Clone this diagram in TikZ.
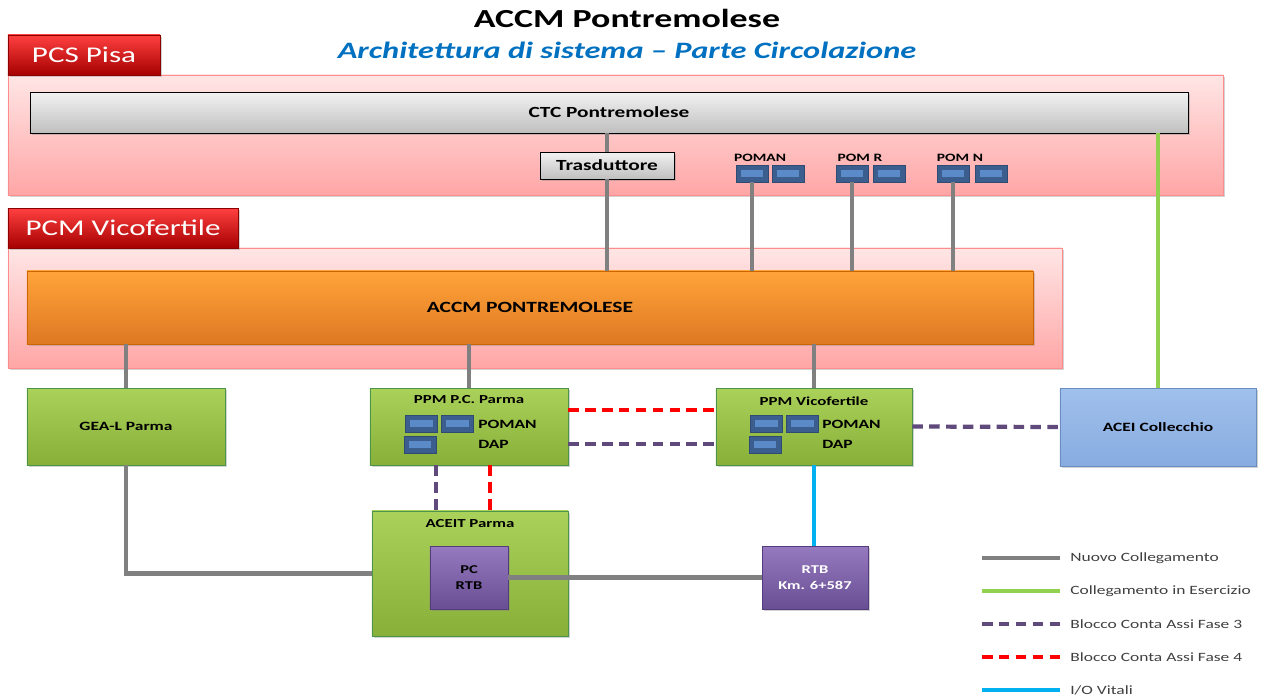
\documentclass[tikz,border=0pt]{standalone}
\usepackage{fontspec}
\setmainfont{Carlito}[FakeStretch=1.38]
\usepackage{xcolor}
\usepackage{tikz}
\usetikzlibrary{shadows}

\definecolor{linkgrey}{HTML}{808080}
\definecolor{linkgreen}{HTML}{92D050}
\definecolor{linkpurple}{HTML}{604A7B}
\definecolor{linkred}{HTML}{FF0000}
\definecolor{linkcyan}{HTML}{00B0F0}
\definecolor{titleblue}{HTML}{0070C0}
\definecolor{blockdark}{HTML}{3B5E8E}
\definecolor{blocklight}{HTML}{5A8AC8}
\definecolor{legendtext}{HTML}{404040}

\tikzset{
  box/.style={shape=rectangle, inner sep=0pt, drop shadow={opacity=0.35, shadow xshift=1.5pt, shadow yshift=-1.5pt}},
  area/.style={box, draw=red!45!white, top color=red!10!white, bottom color=red!35!white},
  tab/.style={box, draw=red!55!black, top color=red!75!white, bottom color=red!65!black,
    text=white, font=\fontsize{16}{18}\selectfont},
  greybox/.style={box, draw=black, top color=gray!10, bottom color=gray!50,
    font=\bfseries\fontsize{11}{13}\selectfont},
  orangebox/.style={box, draw=orange!80!black, top color={rgb,255:red,255;green,164;blue,58},
    bottom color={rgb,255:red,222;green,120;blue,34}, font=\bfseries\fontsize{11.1}{13}\selectfont},
  greenbox/.style={box, draw=green!40!black!70, top color={rgb,255:red,170;green,210;blue,90},
    bottom color={rgb,255:red,136;green,176;blue,56}, font=\bfseries\fontsize{9}{11}\selectfont},
  bluebox/.style={box, draw={rgb,255:red,106;green,140;blue,192}, top color={rgb,255:red,160;green,192;blue,236},
    bottom color={rgb,255:red,136;green,172;blue,224}, font=\bfseries\fontsize{9}{11}\selectfont},
  purplebox/.style={box, draw={rgb,255:red,84;green,60;blue,124}, top color={rgb,255:red,150;green,122;blue,192},
    bottom color={rgb,255:red,104;green,78;blue,146}, align=center, font=\bfseries\fontsize{8.5}{11}\selectfont},
  pomblock/.style={shape=rectangle, inner sep=0pt, draw=blockdark!80!black, fill=blockdark,
    minimum width=0.8cm, minimum height=0.42cm,
    path picture={\fill[blocklight] ([shift={(3.5pt,-3.3pt)}]path picture bounding box.north west)
      rectangle ([shift={(-3.5pt,3.3pt)}]path picture bounding box.south east);}},
  smalllbl/.style={font=\bfseries\fontsize{8}{10}\selectfont, inner sep=0pt},
  innerlbl/.style={font=\bfseries\fontsize{9}{11}\selectfont, inner sep=0pt},
  newlink/.style={draw=linkgrey, line width=3pt},
  oldlink/.style={draw=linkgreen, line width=3pt},
  phase3/.style={draw=linkpurple, line width=3pt, dash pattern=on 7.5pt off 4.5pt},
  phase4/.style={draw=linkred, line width=3pt, dash pattern=on 7.5pt off 4.5pt},
  vitallink/.style={draw=linkcyan, line width=3pt}
}

\begin{document}
\begin{tikzpicture}[x=0.025cm, y=-0.025cm]
        \useasboundingbox (0,0) rectangle (1266,699);
        % titles
        \node[font=\bfseries\fontsize{18.5}{21}\selectfont] (title) at (627,18) {ACCM Pontremolese};
        \node[font=\bfseries\itshape\fontsize{16.7}{19}\selectfont, text=titleblue] (subtitle) at (627,50) {Architettura di sistema -- Parte Circolazione};
        % PCS Pisa
        \node[area, minimum width=30.375cm, minimum height=3cm] (pcs) at (615.5,135) {};
        \node[tab, minimum width=3.8cm, minimum height=1cm] (pcstab) at (84,55) {PCS Pisa};
        \node[greybox, minimum width=28.95cm, minimum height=1.025cm] (ctc) at (609,112.5) {CTC Pontremolese};
        \node[greybox, minimum width=3.35cm, minimum height=0.675cm] (trasd) at (607,165.5) {Trasduttore};
        \node[smalllbl] (lpoman) at (760,158) {POMAN};
        \node[pomblock] (pa1) at (752,173.5) {};
        \node[pomblock] (pa2) at (788,173.5) {};
        \node[smalllbl] (lpomr) at (860,158) {POM R};
        \node[pomblock] (pr1) at (852,173.5) {};
        \node[pomblock] (pr2) at (889,173.5) {};
        \node[smalllbl] (lpomn) at (960,158) {POM N};
        \node[pomblock] (pn1) at (953,173.5) {};
        \node[pomblock] (pn2) at (991,173.5) {};
        % PCM Vicofertile
        \node[area, minimum width=26.35cm, minimum height=3cm] (pcm) at (535,308) {};
        \node[tab, minimum width=5.75cm, minimum height=1cm] (pcmtab) at (123,228) {PCM Vicofertile};
        \node[orangebox, minimum width=25.15cm, minimum height=1.825cm] (accm) at (530,307.5) {ACCM PONTREMOLESE};
        % field devices
        \node[greenbox, minimum width=4.95cm, minimum height=1.925cm] (gea) at (126,426.5) {GEA-L Parma};
        \node[greenbox, minimum width=4.95cm, minimum height=1.925cm] (ppmpc) at (469,426.5) {};
        \node[greenbox, minimum width=4.9cm, minimum height=1.925cm] (ppmvf) at (814,426.5) {};
        \node[bluebox, minimum width=4.9cm, minimum height=1.95cm] (acei) at (1158,427) {ACEI Collecchio};
        \node[innerlbl, font=\bfseries\fontsize{8.7}{10}\selectfont] (tppmpc) at (469,400) {PPM P.C. Parma};
        \node[pomblock] (pc1) at (421.5,423.5) {};
        \node[pomblock] (pc2) at (457.5,423.5) {};
        \node[pomblock] (pc3) at (420,444.5) {};
        \node[innerlbl, anchor=west] (tpcpoman) at (478,424) {POMAN};
        \node[innerlbl, anchor=west] (tpcdap) at (478,444) {DAP};
        \node[innerlbl, font=\bfseries\fontsize{8.7}{10}\selectfont] (tppmvf) at (814,401) {PPM Vicofertile};
        \node[pomblock] (vf1) at (766.5,423.5) {};
        \node[pomblock] (vf2) at (802.5,423.5) {};
        \node[pomblock] (vf3) at (765,444.5) {};
        \node[innerlbl, anchor=west] (tvfpoman) at (822,424) {POMAN};
        \node[innerlbl, anchor=west] (tvfdap) at (822,444) {DAP};
        \node[greenbox, minimum width=4.9cm, minimum height=3.125cm] (aceit) at (470,573.5) {};
        \node[innerlbl, font=\bfseries\fontsize{8.7}{10}\selectfont] (taceit) at (470,524) {ACEIT Parma};
        \node[purplebox, minimum width=1.95cm, minimum height=1.575cm] (pcrtb) at (469,577.5) {PC\\RTB};
        \node[purplebox, text=white, minimum width=2.65cm, minimum height=1.575cm] (rtb) at (815,577.5) {RTB\\Km. 6+587};
        % connections
        \path [newlink](ctc.south -| trasd.north) edge (trasd.north);
        \path [newlink](trasd.south) edge (trasd.south |- accm.north);
        \path [newlink](pa1.south) edge (pa1.south |- accm.north);
        \path [newlink](pr1.south) edge (pr1.south |- accm.north);
        \path [newlink](pn1.south) edge (pn1.south |- accm.north);
        \path [oldlink](ctc.south -| acei.north) edge (acei.north);
        \path [newlink](accm.south -| gea.north) edge (gea.north);
        \path [newlink](accm.south -| ppmpc.north) edge (ppmpc.north);
        \path [newlink](accm.south -| ppmvf.north) edge (ppmvf.north);
        \path [phase4]([yshift=0.41cm]ppmpc.east) edge ([yshift=0.41cm]ppmvf.west);
        \path [phase3]([yshift=-0.44cm]ppmpc.east) edge ([yshift=-0.44cm]ppmvf.west);
        \path [phase3](ppmvf.east) edge (acei.west);
        \path [phase3]([xshift=-0.83cm]ppmpc.south) edge ([xshift=-0.83cm]ppmpc.south |- aceit.north);
        \path [phase4]([xshift=0.53cm]ppmpc.south) edge ([xshift=0.53cm]ppmpc.south |- aceit.north);
        \path [vitallink](ppmvf.south) edge (ppmvf.south |- rtb.north);
        \path [newlink](pcrtb.east) edge (rtb.west);
        \draw [newlink](gea.south) |- (aceit.west);
        % legend
        \foreach \y/\sty/\txt in {558/newlink/{Nuovo Collegamento}, 591/oldlink/{Collegamento in Esercizio},
            624/phase3/{Blocco Conta Assi Fase 3}, 657/phase4/{Blocco Conta Assi Fase 4}, 690/vitallink/{I/O Vitali}}{
          \coordinate (leg\y a) at (982,\y);
          \coordinate (leg\y b) at (1060,\y);
          \path [\sty](leg\y a) edge (leg\y b);
          \node[anchor=west, inner sep=0pt, text=legendtext, font=\fontsize{9}{11}\selectfont] (legtxt\y) at (1070,\y) {\txt};
        }
    \end{tikzpicture}
\end{document}
